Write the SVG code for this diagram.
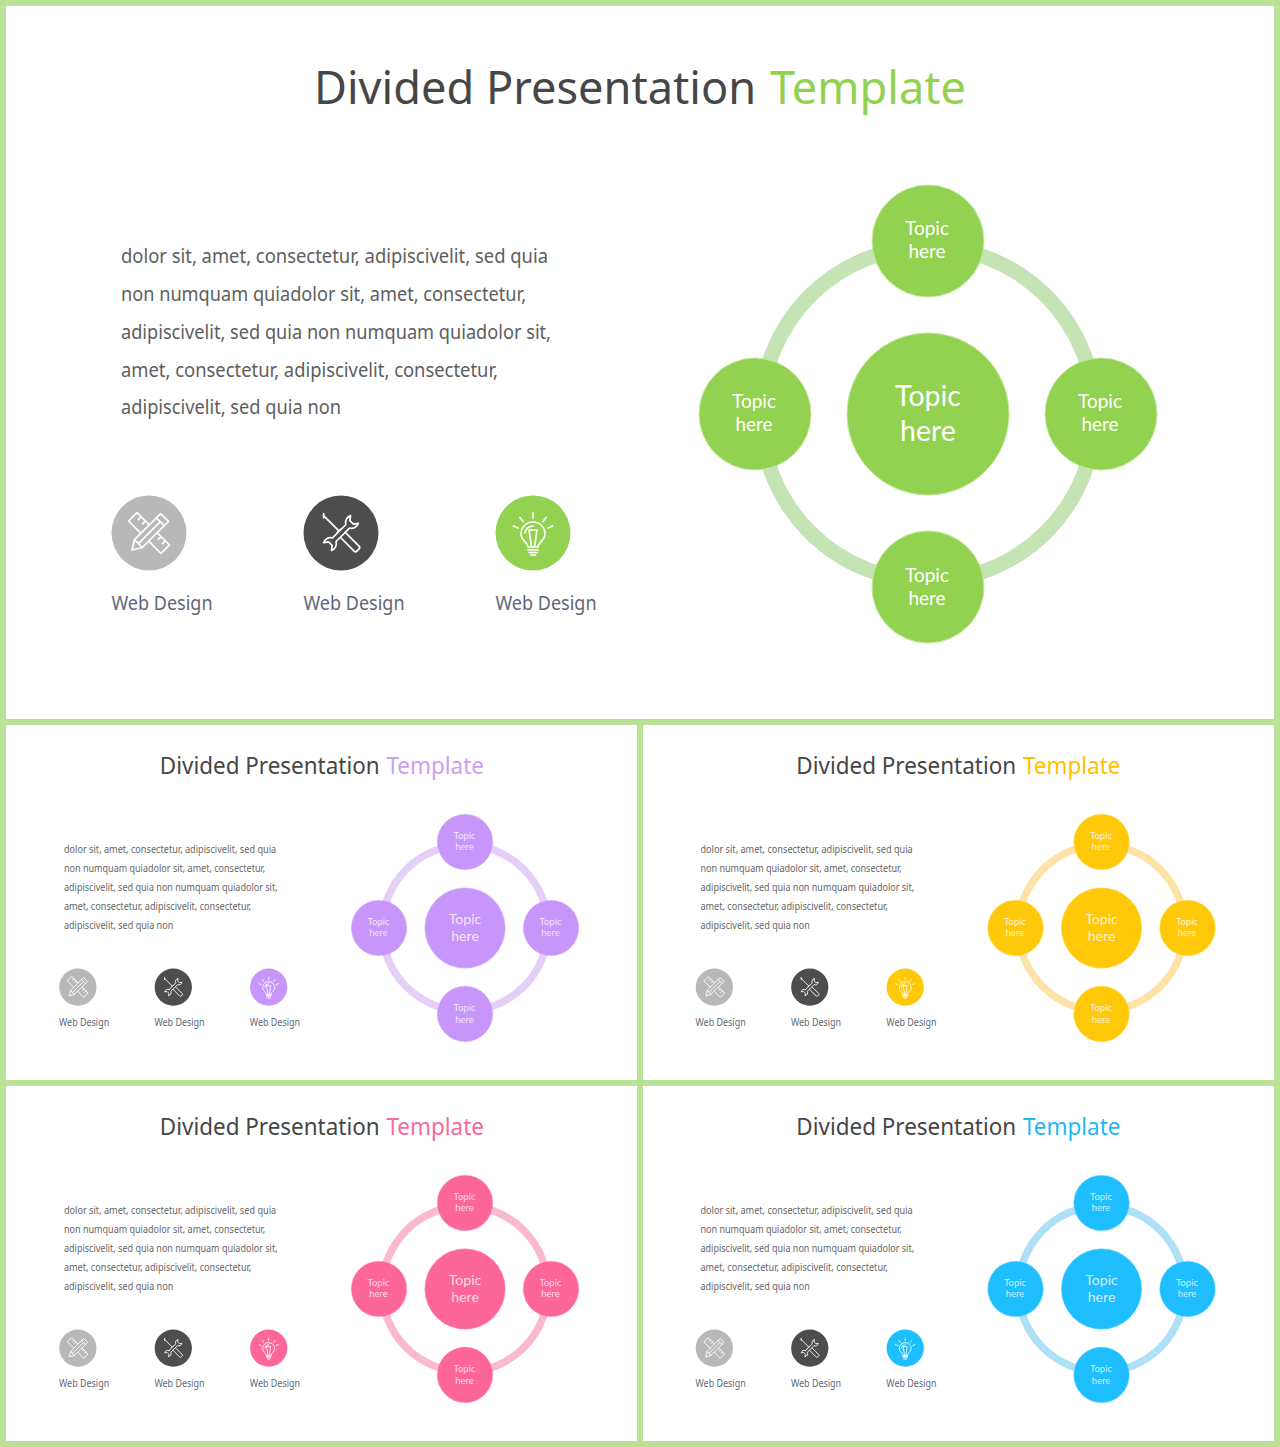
<svg xmlns="http://www.w3.org/2000/svg" xmlns:xlink="http://www.w3.org/1999/xlink" width="1280" height="1447" viewBox="0 0 1280 1447">
<style>
text{font-family:"Noto Sans","Open Sans","Liberation Sans",sans-serif}
.title{font-size:46px;fill:#464646}
.body{font-size:20px;fill:#5e5e5e}
.lbl{font-size:20px;fill:#606776}
.t,.c{font-family:Lato,"Noto Sans",sans-serif;fill:#fff;text-anchor:middle}
.t{font-size:19px}
.c{font-size:28.5px}
.ring{fill:none;stroke-width:15}
.ic{fill:none;stroke:#fff;stroke-width:1.7;stroke-linejoin:round;stroke-linecap:round}
.small .t,.small .c{fill-opacity:.78}
.small .body{fill:#666}
.n{stroke-width:1}
.green .n{fill:#93d251;stroke:#c4ea9c}.green .a{fill:#93d251}.green .ring{stroke:#c5e4b5}.green .h{fill:#93d251}
.purple .n{fill:#c896fa;stroke:#dfc4fb}.purple .a{fill:#c896fa}.purple .ring{stroke:#e4cff9}.purple .h{fill:#c9a0f2}
.yellow .n{fill:#ffc90a;stroke:#ffe07a}.yellow .a{fill:#ffc90a}.yellow .ring{stroke:#fde3a8}.yellow .h{fill:#ffc000}
.pink .n{fill:#fd6699;stroke:#fea3c2}.pink .a{fill:#fd6699}.pink .ring{stroke:#fab9cf}.pink .h{fill:#f9689a}
.blue .n{fill:#1fbfff;stroke:#8adcff}.blue .a{fill:#1fbfff}.blue .ring{stroke:#aee0f8}.blue .h{fill:#1fb8f5}
</style>
<defs>
<g id="pencil">
<g transform="rotate(45)" class="ic"><rect x="-23" y="-6" width="46" height="12" fill="#b8b8b8"/><path d="M-17,-6v4M-11,-6v4M11,-6v4M17,-6v4"/></g>
<g transform="rotate(-45)" class="ic"><path d="M-24,0L-15,-5.5H22V5.5H-15Z" fill="#b8b8b8"/><path d="M-15,-5.5V5.5M16,-5.5V5.5M-15,0H16"/></g>
</g>
<g id="tools">
<g transform="rotate(45)" class="ic"><path d="M-25,0H-3M-26,-1.5L-23,1.5"/><rect x="-3" y="-3.5" width="27" height="7" rx="2" fill="#4d4d4d"/></g>
<g transform="rotate(-45)" class="ic"><path d="M-9.5,-2.5H9.5A7,7 0 0 1 19,-5.5L15,-2.5V2.5L19,5.5A7,7 0 0 1 9.5,2.5H-9.5A7,7 0 0 1 -19,5.5L-15,2.5V-2.5L-19,-5.5A7,7 0 0 1 -9.5,-2.5Z" fill="#4d4d4d"/></g>
</g>
<g id="bulb">
<g class="ic"><path d="M-5,14C-5,9 -12,8 -12,1A12,12 0 1 1 12,1C12,8 5,9 5,14Z"/><path d="M-8,0A8,8 0 0 1 0,-7M-4,-3H4L1.5,14M-1.5,14L-4,-3M-5,17H5M-4,19.5H4M-2.5,22H2.5M0,-15V-20M-10,-11.5L-13,-15.5M10,-11.5L13,-15.5M-15,-5L-19.5,-7M15,-5L19.5,-7"/></g>
</g>
</defs>
<rect width="1280" height="1447" fill="#b9e296"/>
<rect x="6" y="6" width="1268" height="713" fill="#fff"/>
<rect x="6" y="725" width="631" height="355" fill="#fff"/>
<rect x="643" y="725" width="631" height="355" fill="#fff"/>
<rect x="6" y="1086" width="631" height="355" fill="#fff"/>
<rect x="643" y="1086" width="631" height="355" fill="#fff"/>

<g id="slide-main" class="green">
<text class="title" x="314" y="104" textLength="652" lengthAdjust="spacingAndGlyphs">Divided Presentation <tspan class="h" dx="2">Template</tspan></text>
<g class="bodytext">
<text class="body" x="121" y="263" textLength="427" lengthAdjust="spacingAndGlyphs">dolor sit, amet, consectetur, adipiscivelit, sed quia</text>
<text class="body" x="121" y="301" textLength="405" lengthAdjust="spacingAndGlyphs">non numquam quiadolor sit, amet, consectetur,</text>
<text class="body" x="121" y="339" textLength="430" lengthAdjust="spacingAndGlyphs">adipiscivelit, sed quia non numquam quiadolor sit,</text>
<text class="body" x="121" y="377" textLength="377" lengthAdjust="spacingAndGlyphs">amet, consectetur, adipiscivelit, consectetur,</text>
<text class="body" x="121" y="414" textLength="220" lengthAdjust="spacingAndGlyphs">adipiscivelit, sed quia non</text>
</g>
<g id="main-icon-1"><circle cx="149" cy="533" r="37.5" fill="#b8b8b8"/><use href="#pencil" x="149" y="533"/><text class="lbl" x="111.5" y="610" textLength="101" lengthAdjust="spacingAndGlyphs">Web Design</text></g>
<g id="main-icon-2"><circle cx="341" cy="533" r="37.5" fill="#4d4d4d"/><use href="#tools" x="341" y="533"/><text class="lbl" x="303.5" y="610" textLength="101" lengthAdjust="spacingAndGlyphs">Web Design</text></g>
<g id="main-icon-3"><circle class="a" cx="533" cy="533" r="37.5"/><use href="#bulb" x="533" y="533"/><text class="lbl" x="495.5" y="610" textLength="101" lengthAdjust="spacingAndGlyphs">Web Design</text></g>
<g id="main-connectors"><path class="ring" d="M928,247A167,167 0 0 1 1095,414"/><path class="ring" d="M1095,414A167,167 0 0 1 928,581"/><path class="ring" d="M928,581A167,167 0 0 1 761,414"/><path class="ring" d="M761,414A167,167 0 0 1 928,247"/></g>
<g id="main-center"><circle class="n" cx="928" cy="414" r="81"/><text class="c" x="928" y="406">Topic</text><text class="c" x="928" y="440.5">here</text></g>
<g id="main-top"><circle class="n" cx="928" cy="241" r="56"/><text class="t" x="927" y="235">Topic</text><text class="t" x="927" y="258">here</text></g>
<g id="main-right"><circle class="n" cx="1101" cy="414" r="56"/><text class="t" x="1100" y="408">Topic</text><text class="t" x="1100" y="431">here</text></g>
<g id="main-bottom"><circle class="n" cx="928" cy="587" r="56"/><text class="t" x="927" y="581.5">Topic</text><text class="t" x="927" y="604.5">here</text></g>
<g id="main-left"><circle class="n" cx="755" cy="414" r="56"/><text class="t" x="754" y="408">Topic</text><text class="t" x="754" y="431">here</text></g>
</g>

<g id="slide-purple" class="small purple" transform="translate(3.8 722.2) scale(.497)">
<text class="title" x="314" y="104" textLength="652" lengthAdjust="spacingAndGlyphs">Divided Presentation <tspan class="h" dx="2">Template</tspan></text>
<g class="bodytext">
<text class="body" x="121" y="264" textLength="427" lengthAdjust="spacingAndGlyphs">dolor sit, amet, consectetur, adipiscivelit, sed quia</text>
<text class="body" x="121" y="302" textLength="405" lengthAdjust="spacingAndGlyphs">non numquam quiadolor sit, amet, consectetur,</text>
<text class="body" x="121" y="340" textLength="430" lengthAdjust="spacingAndGlyphs">adipiscivelit, sed quia non numquam quiadolor sit,</text>
<text class="body" x="121" y="378" textLength="377" lengthAdjust="spacingAndGlyphs">amet, consectetur, adipiscivelit, consectetur,</text>
<text class="body" x="121" y="416" textLength="220" lengthAdjust="spacingAndGlyphs">adipiscivelit, sed quia non</text>
</g>
<g id="purple-icon-1"><circle cx="149" cy="533" r="37.5" fill="#b8b8b8"/><use href="#pencil" x="149" y="533"/><text class="lbl" x="111" y="611.5" textLength="101" lengthAdjust="spacingAndGlyphs">Web Design</text></g>
<g id="purple-icon-2"><circle cx="341" cy="533" r="37.5" fill="#4d4d4d"/><use href="#tools" x="341" y="533"/><text class="lbl" x="303" y="611.5" textLength="101" lengthAdjust="spacingAndGlyphs">Web Design</text></g>
<g id="purple-icon-3"><circle class="a" cx="533" cy="533" r="37.5"/><use href="#bulb" x="533" y="533"/><text class="lbl" x="495" y="611.5" textLength="101" lengthAdjust="spacingAndGlyphs">Web Design</text></g>
<g id="purple-connectors"><path class="ring" d="M928,247A167,167 0 0 1 1095,414"/><path class="ring" d="M1095,414A167,167 0 0 1 928,581"/><path class="ring" d="M928,581A167,167 0 0 1 761,414"/><path class="ring" d="M761,414A167,167 0 0 1 928,247"/></g>
<g id="purple-center"><circle class="n" cx="928" cy="414" r="81"/><text class="c" x="928" y="406">Topic</text><text class="c" x="928" y="440.5">here</text></g>
<g id="purple-top"><circle class="n" cx="928" cy="241" r="56"/><text class="t" x="927" y="235">Topic</text><text class="t" x="927" y="258">here</text></g>
<g id="purple-right"><circle class="n" cx="1101" cy="414" r="56"/><text class="t" x="1100" y="408">Topic</text><text class="t" x="1100" y="431">here</text></g>
<g id="purple-bottom"><circle class="n" cx="928" cy="587" r="56"/><text class="t" x="927" y="581.5">Topic</text><text class="t" x="927" y="604.5">here</text></g>
<g id="purple-left"><circle class="n" cx="755" cy="414" r="56"/><text class="t" x="754" y="408">Topic</text><text class="t" x="754" y="431">here</text></g>
</g>

<g id="slide-yellow" class="small yellow" transform="translate(640.3 722.2) scale(.497)">
<text class="title" x="314" y="104" textLength="652" lengthAdjust="spacingAndGlyphs">Divided Presentation <tspan class="h" dx="2">Template</tspan></text>
<g class="bodytext">
<text class="body" x="121" y="264" textLength="427" lengthAdjust="spacingAndGlyphs">dolor sit, amet, consectetur, adipiscivelit, sed quia</text>
<text class="body" x="121" y="302" textLength="405" lengthAdjust="spacingAndGlyphs">non numquam quiadolor sit, amet, consectetur,</text>
<text class="body" x="121" y="340" textLength="430" lengthAdjust="spacingAndGlyphs">adipiscivelit, sed quia non numquam quiadolor sit,</text>
<text class="body" x="121" y="378" textLength="377" lengthAdjust="spacingAndGlyphs">amet, consectetur, adipiscivelit, consectetur,</text>
<text class="body" x="121" y="416" textLength="220" lengthAdjust="spacingAndGlyphs">adipiscivelit, sed quia non</text>
</g>
<g id="yellow-icon-1"><circle cx="149" cy="533" r="37.5" fill="#b8b8b8"/><use href="#pencil" x="149" y="533"/><text class="lbl" x="111" y="611.5" textLength="101" lengthAdjust="spacingAndGlyphs">Web Design</text></g>
<g id="yellow-icon-2"><circle cx="341" cy="533" r="37.5" fill="#4d4d4d"/><use href="#tools" x="341" y="533"/><text class="lbl" x="303" y="611.5" textLength="101" lengthAdjust="spacingAndGlyphs">Web Design</text></g>
<g id="yellow-icon-3"><circle class="a" cx="533" cy="533" r="37.5"/><use href="#bulb" x="533" y="533"/><text class="lbl" x="495" y="611.5" textLength="101" lengthAdjust="spacingAndGlyphs">Web Design</text></g>
<g id="yellow-connectors"><path class="ring" d="M928,247A167,167 0 0 1 1095,414"/><path class="ring" d="M1095,414A167,167 0 0 1 928,581"/><path class="ring" d="M928,581A167,167 0 0 1 761,414"/><path class="ring" d="M761,414A167,167 0 0 1 928,247"/></g>
<g id="yellow-center"><circle class="n" cx="928" cy="414" r="81"/><text class="c" x="928" y="406">Topic</text><text class="c" x="928" y="440.5">here</text></g>
<g id="yellow-top"><circle class="n" cx="928" cy="241" r="56"/><text class="t" x="927" y="235">Topic</text><text class="t" x="927" y="258">here</text></g>
<g id="yellow-right"><circle class="n" cx="1101" cy="414" r="56"/><text class="t" x="1100" y="408">Topic</text><text class="t" x="1100" y="431">here</text></g>
<g id="yellow-bottom"><circle class="n" cx="928" cy="587" r="56"/><text class="t" x="927" y="581.5">Topic</text><text class="t" x="927" y="604.5">here</text></g>
<g id="yellow-left"><circle class="n" cx="755" cy="414" r="56"/><text class="t" x="754" y="408">Topic</text><text class="t" x="754" y="431">here</text></g>
</g>

<g id="slide-pink" class="small pink" transform="translate(3.8 1083.2) scale(.497)">
<text class="title" x="314" y="104" textLength="652" lengthAdjust="spacingAndGlyphs">Divided Presentation <tspan class="h" dx="2">Template</tspan></text>
<g class="bodytext">
<text class="body" x="121" y="264" textLength="427" lengthAdjust="spacingAndGlyphs">dolor sit, amet, consectetur, adipiscivelit, sed quia</text>
<text class="body" x="121" y="302" textLength="405" lengthAdjust="spacingAndGlyphs">non numquam quiadolor sit, amet, consectetur,</text>
<text class="body" x="121" y="340" textLength="430" lengthAdjust="spacingAndGlyphs">adipiscivelit, sed quia non numquam quiadolor sit,</text>
<text class="body" x="121" y="378" textLength="377" lengthAdjust="spacingAndGlyphs">amet, consectetur, adipiscivelit, consectetur,</text>
<text class="body" x="121" y="416" textLength="220" lengthAdjust="spacingAndGlyphs">adipiscivelit, sed quia non</text>
</g>
<g id="pink-icon-1"><circle cx="149" cy="533" r="37.5" fill="#b8b8b8"/><use href="#pencil" x="149" y="533"/><text class="lbl" x="111" y="611.5" textLength="101" lengthAdjust="spacingAndGlyphs">Web Design</text></g>
<g id="pink-icon-2"><circle cx="341" cy="533" r="37.5" fill="#4d4d4d"/><use href="#tools" x="341" y="533"/><text class="lbl" x="303" y="611.5" textLength="101" lengthAdjust="spacingAndGlyphs">Web Design</text></g>
<g id="pink-icon-3"><circle class="a" cx="533" cy="533" r="37.5"/><use href="#bulb" x="533" y="533"/><text class="lbl" x="495" y="611.5" textLength="101" lengthAdjust="spacingAndGlyphs">Web Design</text></g>
<g id="pink-connectors"><path class="ring" d="M928,247A167,167 0 0 1 1095,414"/><path class="ring" d="M1095,414A167,167 0 0 1 928,581"/><path class="ring" d="M928,581A167,167 0 0 1 761,414"/><path class="ring" d="M761,414A167,167 0 0 1 928,247"/></g>
<g id="pink-center"><circle class="n" cx="928" cy="414" r="81"/><text class="c" x="928" y="406">Topic</text><text class="c" x="928" y="440.5">here</text></g>
<g id="pink-top"><circle class="n" cx="928" cy="241" r="56"/><text class="t" x="927" y="235">Topic</text><text class="t" x="927" y="258">here</text></g>
<g id="pink-right"><circle class="n" cx="1101" cy="414" r="56"/><text class="t" x="1100" y="408">Topic</text><text class="t" x="1100" y="431">here</text></g>
<g id="pink-bottom"><circle class="n" cx="928" cy="587" r="56"/><text class="t" x="927" y="581.5">Topic</text><text class="t" x="927" y="604.5">here</text></g>
<g id="pink-left"><circle class="n" cx="755" cy="414" r="56"/><text class="t" x="754" y="408">Topic</text><text class="t" x="754" y="431">here</text></g>
</g>

<g id="slide-blue" class="small blue" transform="translate(640.3 1083.2) scale(.497)">
<text class="title" x="314" y="104" textLength="652" lengthAdjust="spacingAndGlyphs">Divided Presentation <tspan class="h" dx="2">Template</tspan></text>
<g class="bodytext">
<text class="body" x="121" y="264" textLength="427" lengthAdjust="spacingAndGlyphs">dolor sit, amet, consectetur, adipiscivelit, sed quia</text>
<text class="body" x="121" y="302" textLength="405" lengthAdjust="spacingAndGlyphs">non numquam quiadolor sit, amet, consectetur,</text>
<text class="body" x="121" y="340" textLength="430" lengthAdjust="spacingAndGlyphs">adipiscivelit, sed quia non numquam quiadolor sit,</text>
<text class="body" x="121" y="378" textLength="377" lengthAdjust="spacingAndGlyphs">amet, consectetur, adipiscivelit, consectetur,</text>
<text class="body" x="121" y="416" textLength="220" lengthAdjust="spacingAndGlyphs">adipiscivelit, sed quia non</text>
</g>
<g id="blue-icon-1"><circle cx="149" cy="533" r="37.5" fill="#b8b8b8"/><use href="#pencil" x="149" y="533"/><text class="lbl" x="111" y="611.5" textLength="101" lengthAdjust="spacingAndGlyphs">Web Design</text></g>
<g id="blue-icon-2"><circle cx="341" cy="533" r="37.5" fill="#4d4d4d"/><use href="#tools" x="341" y="533"/><text class="lbl" x="303" y="611.5" textLength="101" lengthAdjust="spacingAndGlyphs">Web Design</text></g>
<g id="blue-icon-3"><circle class="a" cx="533" cy="533" r="37.5"/><use href="#bulb" x="533" y="533"/><text class="lbl" x="495" y="611.5" textLength="101" lengthAdjust="spacingAndGlyphs">Web Design</text></g>
<g id="blue-connectors"><path class="ring" d="M928,247A167,167 0 0 1 1095,414"/><path class="ring" d="M1095,414A167,167 0 0 1 928,581"/><path class="ring" d="M928,581A167,167 0 0 1 761,414"/><path class="ring" d="M761,414A167,167 0 0 1 928,247"/></g>
<g id="blue-center"><circle class="n" cx="928" cy="414" r="81"/><text class="c" x="928" y="406">Topic</text><text class="c" x="928" y="440.5">here</text></g>
<g id="blue-top"><circle class="n" cx="928" cy="241" r="56"/><text class="t" x="927" y="235">Topic</text><text class="t" x="927" y="258">here</text></g>
<g id="blue-right"><circle class="n" cx="1101" cy="414" r="56"/><text class="t" x="1100" y="408">Topic</text><text class="t" x="1100" y="431">here</text></g>
<g id="blue-bottom"><circle class="n" cx="928" cy="587" r="56"/><text class="t" x="927" y="581.5">Topic</text><text class="t" x="927" y="604.5">here</text></g>
<g id="blue-left"><circle class="n" cx="755" cy="414" r="56"/><text class="t" x="754" y="408">Topic</text><text class="t" x="754" y="431">here</text></g>
</g>
</svg>
